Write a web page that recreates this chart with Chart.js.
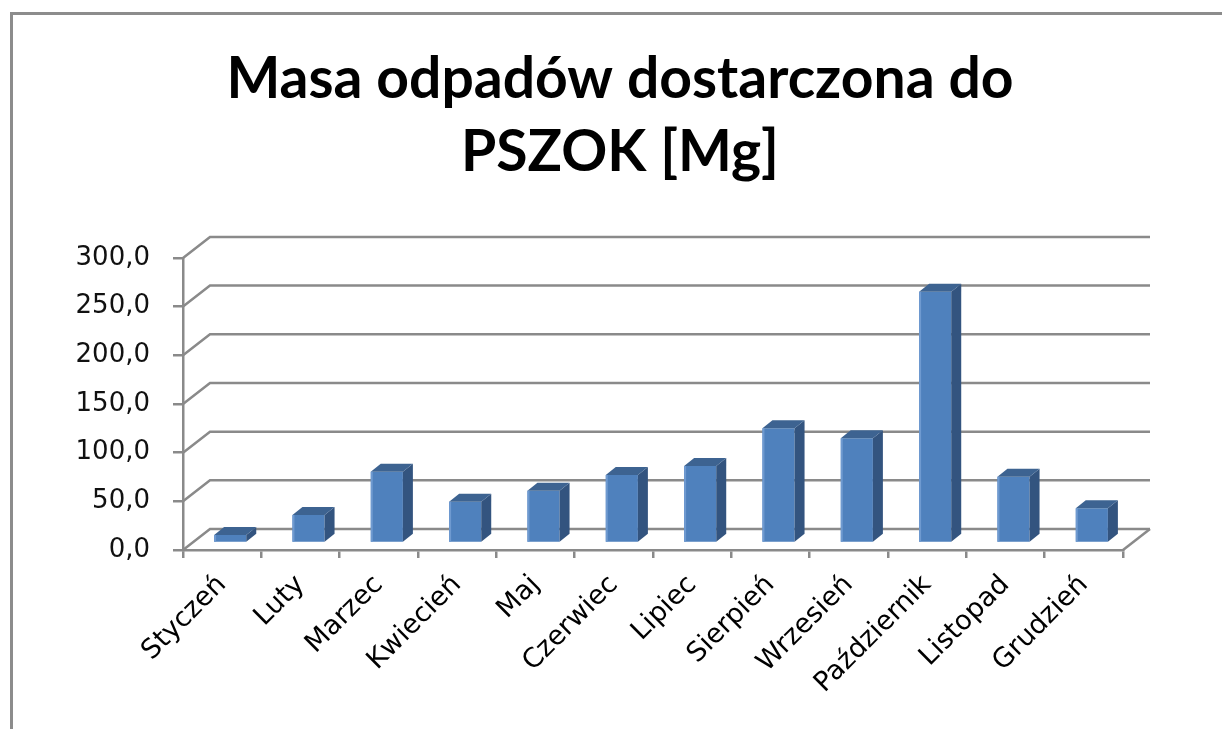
<!DOCTYPE html>
<html>
<head>
<meta charset="utf-8">
<script src="https://cdn.jsdelivr.net/npm/chart.js@4/dist/chart.umd.min.js"></script>
<style>
  html, body { margin: 0; padding: 0; background: #fff; }
  #wrap { width: 1222px; height: 729px; }
</style>
</head>
<body>
<div id="wrap"><canvas id="chart"></canvas></div>
<script>
// Dane z wykresu (Mg)
const months = ['Styczeń', 'Luty', 'Marzec', 'Kwiecień', 'Maj', 'Czerwiec',
    'Lipiec', 'Sierpień', 'Wrzesień', 'Październik', 'Listopad', 'Grudzień'];
const masses = [8.2, 28.7, 73.2, 42.4, 53.7, 69.8, 79.0, 117.8, 107.5, 258.0, 68.0, 35.6];
const titleLines = ['Masa odpadów dostarczona do', 'PSZOK [Mg]'];
const yTicks = [0, 50, 100, 150, 200, 250, 300];

const gridGray = '#8a8a8a';
const floorDepth = { x: 27, y: 21 };
const barShift = { x: 8, y: -7 };
const barDepth = { x: 10, y: 8 };

// obramowanie + ściany pseudo-3D
const frame3d = {
    id: 'frame3d',
    afterLayout(chart) {
        // etykiety osi Y wychodzą poza wąskie pudełko osi - poszerz obszar przycinania
        chart.scales.y.left = 15;
    },
    beforeDraw(chart) {
        const ctx = chart.ctx;
        ctx.save();
        ctx.strokeStyle = '#8c8c8c';
        ctx.lineWidth = 3;
        ctx.beginPath();
        ctx.moveTo(11.5, 740);
        ctx.lineTo(11.5, 13.5);
        ctx.lineTo(1230, 13.5);
        ctx.stroke();
        ctx.restore();
    },
    beforeDatasetsDraw(chart) {
        const ctx = chart.ctx;
        const y = chart.scales.y;
        const left = chart.chartArea.left;
        const right = chart.chartArea.right;
        ctx.save();
        ctx.strokeStyle = gridGray;
        ctx.lineWidth = 2.5;
        yTicks.forEach(v => {
            const py = y.getPixelForValue(v);
            ctx.beginPath();
            ctx.moveTo(left, py);
            ctx.lineTo(left + floorDepth.x, py - floorDepth.y);
            ctx.lineTo(right + floorDepth.x, py - floorDepth.y);
            ctx.stroke();
        });
        const pb = y.getPixelForValue(0);
        ctx.beginPath();
        ctx.moveTo(right, pb);
        ctx.lineTo(right + floorDepth.x, pb - floorDepth.y);
        ctx.stroke();
        ctx.restore();

        ctx.save();
        ctx.translate(barShift.x, barShift.y);
    },
    afterDatasetsDraw(chart) {
        const ctx = chart.ctx;
        const meta = chart.getDatasetMeta(0);
        meta.data.forEach(bar => {
            const l = bar.x - bar.width / 2;
            const r = bar.x + bar.width / 2;
            const t = bar.y;
            const b = bar.base;
            // bok
            ctx.fillStyle = '#33547f';
            ctx.beginPath();
            ctx.moveTo(r, t);
            ctx.lineTo(r + barDepth.x, t - barDepth.y);
            ctx.lineTo(r + barDepth.x, b - barDepth.y);
            ctx.lineTo(r, b);
            ctx.closePath();
            ctx.fill();
            // góra
            ctx.fillStyle = '#3d6391';
            ctx.beginPath();
            ctx.moveTo(l, t);
            ctx.lineTo(l + barDepth.x, t - barDepth.y);
            ctx.lineTo(r + barDepth.x, t - barDepth.y);
            ctx.lineTo(r, t);
            ctx.closePath();
            ctx.fill();
            // jasna krawędź
            ctx.fillStyle = '#6f9ad0';
            ctx.fillRect(l, t, 2, b - t);
        });
        ctx.restore();
    }
};

new Chart(document.getElementById('chart'), {
    type: 'bar',
    data: {
        labels: months,
        datasets: [{
            data: masses,
            backgroundColor: '#4f81bd',
            borderWidth: 0,
            categoryPercentage: 1.0,
            barPercentage: 0.41
        }]
    },
    options: {
        responsive: true,
        maintainAspectRatio: false,
        animation: false,
        layout: {
            padding: { top: 0, left: 117, right: 99, bottom: 0 }
        },
        plugins: {
            legend: { display: false },
            tooltip: { enabled: false },
            title: {
                display: true,
                text: titleLines,
                color: '#000',
                font: { family: 'Lato', size: 57, weight: 'bold', lineHeight: 1.28 },
                padding: { top: 43, bottom: 69 }
            }
        },
        scales: {
            x: {
                grid: {
                    offset: true,
                    drawOnChartArea: false,
                    drawTicks: true,
                    tickLength: 8,
                    color: gridGray,
                    lineWidth: 2.5
                },
                border: { display: true, color: gridGray, width: 2.5 },
                ticks: {
                    color: '#000',
                    font: { family: 'DejaVu Sans', size: 27 },
                    minRotation: 45,
                    maxRotation: 45,
                    autoSkip: false,
                    padding: 11
                },
                afterFit(scale) { scale.height = 179; }
            },
            y: {
                min: 0,
                max: 300,
                grid: {
                    drawOnChartArea: false,
                    drawTicks: true,
                    tickLength: 10,
                    color: gridGray,
                    lineWidth: 2.5
                },
                border: { display: true, color: gridGray, width: 2.5 },
                ticks: {
                    stepSize: 50,
                    color: '#111',
                    font: { family: 'DejaVu Sans', size: 26 },
                    padding: 23,
                    callback: v => v.toFixed(1).replace('.', ',')
                },
                afterFit(scale) { scale.width = 66; }
            }
        }
    },
    plugins: [frame3d]
});
</script>
</body>
</html>
